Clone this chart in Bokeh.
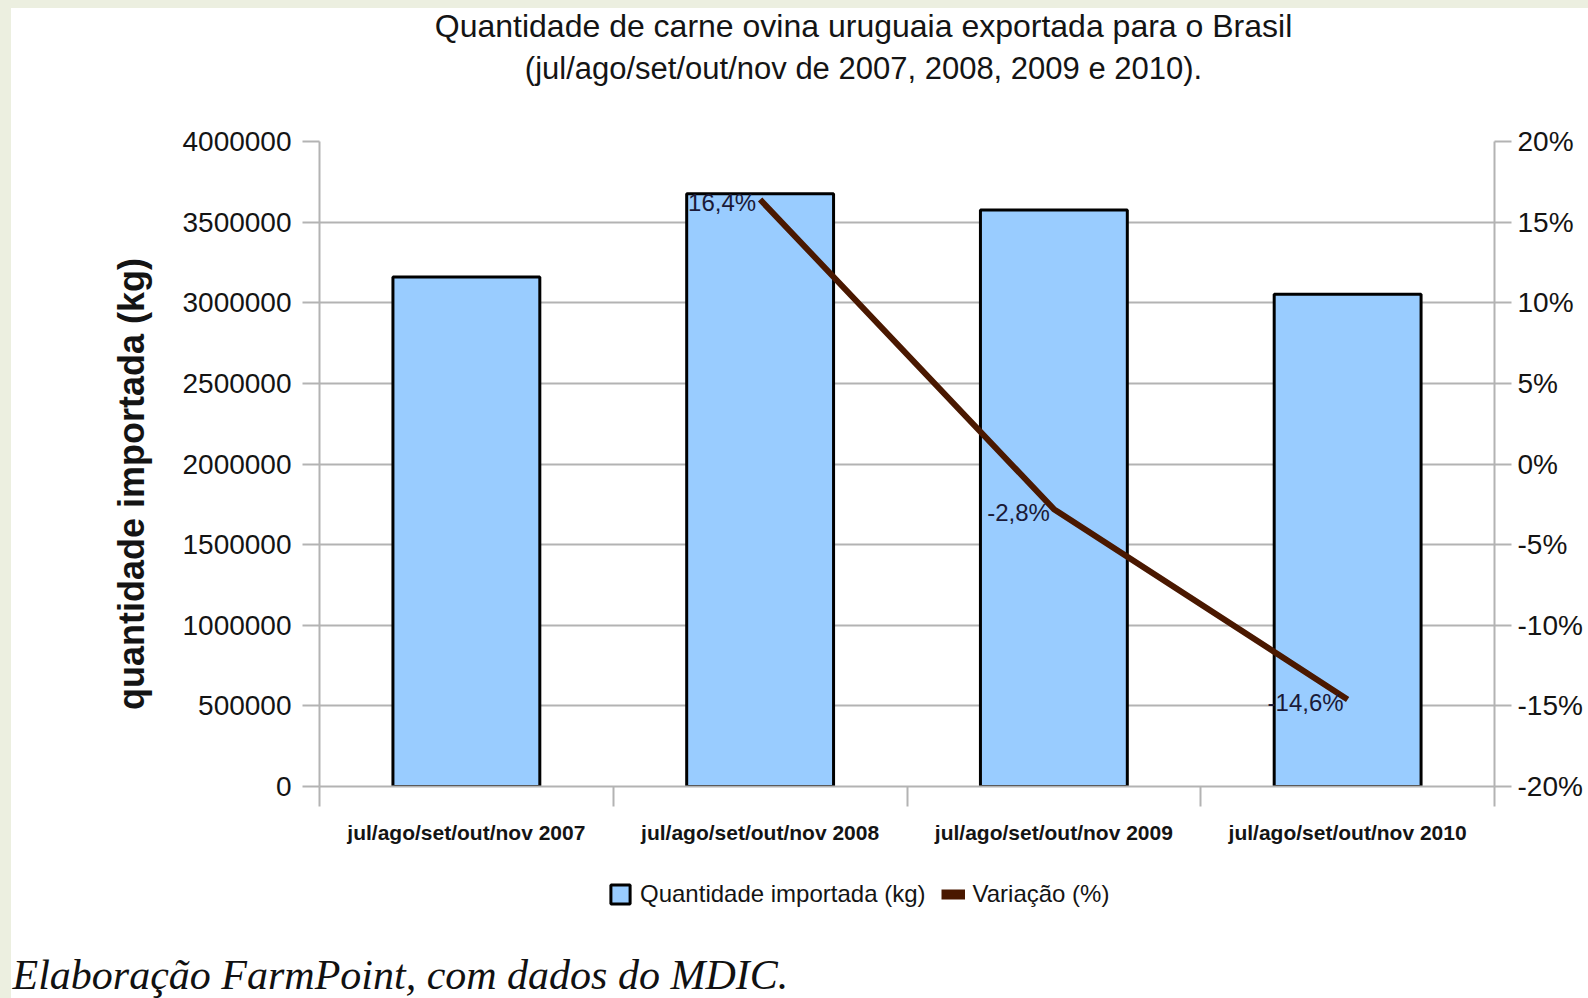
from bokeh.plotting import figure
from bokeh.layouts import row, column
from bokeh.models import (Range1d, LinearAxis, FixedTicker, NumeralTickFormatter, Label, Title,
                          Legend, LegendItem, CustomJSTickFormatter, Spacer)
from bokeh.core.properties import value
from bokeh.embed import file_html
from bokeh.resources import INLINE

# ---- data ----
periods = ["jul/ago/set/out/nov 2007", "jul/ago/set/out/nov 2008",
           "jul/ago/set/out/nov 2009", "jul/ago/set/out/nov 2010"]
quantities_kg = [3160000, 3676000, 3575000, 3053000]
variation_pct = [16.4, -2.8, -14.6]
variation_labels = ["16,4%", "-2,8%", "-14,6%"]
left_ticks = [0, 500000, 1000000, 1500000, 2000000, 2500000, 3000000, 3500000, 4000000]
right_ticks = [-20, -15, -10, -5, 0, 5, 10, 15, 20]
title_lines = ["Quantidade de carne ovina uruguaia exportada para o Brasil",
               "(jul/ago/set/out/nov de 2007, 2008, 2009 e 2010)."]
y_label = "quantidade importada (kg)"
legend_labels = ["Quantidade importada (kg)", "Variação (%)"]
caption = "Elaboração FarmPoint, com dados do MDIC."

FONT = "Liberation Sans"
GRID = "#B3B3B3"
TXT = "#141414"
PAGE_BG = "#ECEFE0"
BAR_FILL = "#99CCFF"
LINE_COL = "#4A1800"
W = 1577
TOP_BAND = 8

bar_x = [i + 0.5 for i in range(len(periods))]
line_x = bar_x[1:]


def strip(height, min_border_bottom=0):
    f = figure(width=W, height=height, x_range=Range1d(0, len(periods)),
               y_range=Range1d(0, 1), x_axis_type=None, y_axis_type=None,
               output_backend="svg", toolbar_location=None,
               min_border_left=308, min_border_right=94, min_border_top=0,
               min_border_bottom=min_border_bottom)
    f.outline_line_color = None
    f.background_fill_color = "white"
    f.border_fill_color = "white"
    return f


# ---------------- title strip (frame aligned with the chart frame) ----------------
p_top = strip(125 - TOP_BAND)
p_top.add_layout(Label(x=544, y=100, x_units="screen", y_units="screen", text=title_lines[0],
                       text_align="center", text_baseline="middle",
                       text_font=FONT, text_font_size="32px", text_color=TXT))
p_top.add_layout(Label(x=544, y=57, x_units="screen", y_units="screen", text=title_lines[1],
                       text_align="center", text_baseline="middle",
                       text_font=FONT, text_font_size="31px", text_color=TXT))

# ---------------- main chart ----------------
p = figure(width=W, height=725, x_range=Range1d(0, len(periods)),
           y_range=Range1d(left_ticks[0], left_ticks[-1]),
           output_backend="svg", toolbar_location=None,
           min_border_left=308, min_border_right=94, min_border_top=16, min_border_bottom=64)
p.outline_line_color = None
p.background_fill_color = "white"
p.border_fill_color = "white"
p.extra_y_ranges = {"pct": Range1d(right_ticks[0], right_ticks[-1])}

p.xgrid.visible = False
p.ygrid.grid_line_color = GRID
p.ygrid.grid_line_width = 2

ya = p.yaxis[0]
ya.ticker = FixedTicker(ticks=left_ticks)
ya.formatter = NumeralTickFormatter(format="0")
ya.axis_line_color = GRID
ya.axis_line_width = 2
ya.major_tick_line_color = GRID
ya.major_tick_line_width = 2
ya.major_tick_out = 17
ya.major_tick_in = 0
ya.minor_tick_line_color = None
ya.major_label_text_font = FONT
ya.major_label_text_font_size = "28px"
ya.major_label_text_color = TXT
ya.major_label_standoff = 11
# trailing no-break spaces shift the centred label down, as in the original
ya.axis_label = y_label + "\u00a0" * 4
ya.axis_label_text_font = FONT
ya.axis_label_text_font_style = "bold"
ya.axis_label_text_font_size = "36px"
ya.axis_label_text_color = TXT
ya.axis_label_standoff = 27

ra = LinearAxis(y_range_name="pct", ticker=FixedTicker(ticks=right_ticks),
                formatter=CustomJSTickFormatter(code="return tick + '%';"))
ra.axis_line_color = GRID
ra.axis_line_width = 2
ra.major_tick_line_color = GRID
ra.major_tick_line_width = 2
ra.major_tick_out = 17
ra.major_tick_in = 0
ra.minor_tick_line_color = None
ra.major_label_text_font = FONT
ra.major_label_text_font_size = "28px"
ra.major_label_text_color = TXT
ra.major_label_standoff = 6
p.add_layout(ra, "right")

xa = p.xaxis[0]
xa.ticker = FixedTicker(ticks=bar_x, minor_ticks=list(range(len(periods) + 1)))
xa.formatter = CustomJSTickFormatter(args=dict(labels=periods),
                                     code="return labels[Math.floor(tick)] || '';")
xa.axis_line_color = GRID
xa.axis_line_width = 2
xa.major_tick_line_color = None
xa.major_tick_out = 0
xa.major_tick_in = 0
xa.minor_tick_line_color = GRID
xa.minor_tick_line_width = 2
xa.minor_tick_out = 20
xa.minor_tick_in = 0
xa.major_label_text_font = FONT
xa.major_label_text_font_style = "bold"
xa.major_label_text_font_size = "21px"
xa.major_label_text_color = TXT
xa.major_label_standoff = 14

p.vbar(x=bar_x, top=quantities_kg, width=0.5, bottom=0,
       fill_color=BAR_FILL, line_color="black", line_width=3)
p.line(x=line_x, y=variation_pct, y_range_name="pct", line_color=LINE_COL, line_width=6)
p.text(x=line_x, y=variation_pct, text=variation_labels, y_range_name="pct",
       text_align="right", text_baseline="middle", x_offset=-4, y_offset=3,
       text_font=value(FONT), text_font_size="24px", text_color="#1a1a38")

# ---------------- legend + caption strip ----------------
p_bot = strip(148, min_border_bottom=49)
p_bot.y_range = Range1d(left_ticks[0], left_ticks[-1])
p_bot.extra_y_ranges = {"pct": Range1d(right_ticks[0], right_ticks[-1])}
# hidden copies of the two series, only used to draw the legend keys
key_bar = p_bot.vbar(x=bar_x, top=quantities_kg, width=0.5, fill_color=BAR_FILL,
                     line_color="black", line_width=3, visible=False)
key_line = p_bot.line(x=line_x, y=variation_pct, y_range_name="pct",
                      line_color=LINE_COL, line_width=10, visible=False)
legend = Legend(items=[LegendItem(label=legend_labels[0], renderers=[key_bar]),
                       LegendItem(label=legend_labels[1], renderers=[key_line])],
                location=(289, 41), orientation="horizontal", padding=0, margin=0,
                spacing=15, glyph_width=24, glyph_height=24, label_standoff=8,
                label_height=24, inactive_fill_alpha=0,
                label_text_font=FONT, label_text_font_size="24px", label_text_color=TXT,
                border_line_color=None, background_fill_alpha=0)
p_bot.add_layout(legend)
p_bot.add_layout(Title(text=caption, align="left", offset=-307, standoff=0,
                       text_font="Liberation Serif", text_font_style="italic",
                       text_font_size="42px", text_color="#111111"), "below")

page = row(Spacer(width=11, height=998, styles={"background-color": PAGE_BG}),
           column(Spacer(width=W, height=TOP_BAND, styles={"background-color": PAGE_BG}),
                  p_top, p, p_bot, spacing=0), spacing=0)

open("out.html", "w").write(file_html(page, INLINE))
